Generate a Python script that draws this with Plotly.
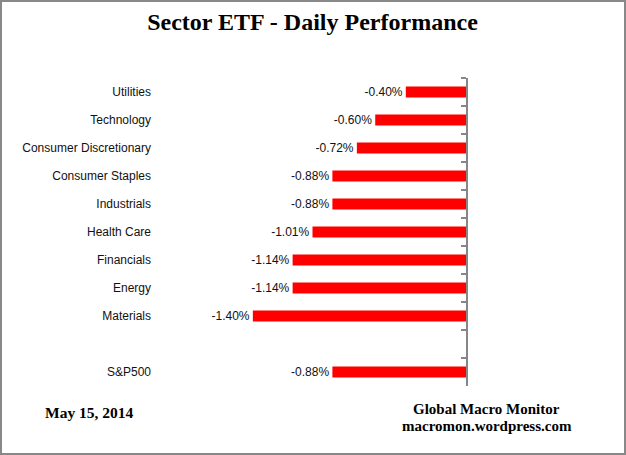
import plotly.graph_objects as go

# sector daily performance (%), top to bottom; blank row separates the S&P500
sectors = ["Utilities", "Technology", "Consumer Discretionary", "Consumer Staples",
           "Industrials", "Health Care", "Financials", "Energy", "Materials", " ", "S&P500"]
perf = [-0.40, -0.60, -0.72, -0.88, -0.88, -1.01, -1.14, -1.14, -1.40, None, -0.88]
perf_labels = ["-0.40%", "-0.60%", "-0.72%", "-0.88%", "-0.88%", "-1.01%",
               "-1.14%", "-1.14%", "-1.40%", "", "-0.88%"]

W, H = 626, 455
L, R, T, B = 158, 159, 78, 69
pw, ph = W - L - R, H - T - B

fig = go.Figure()
fig.add_trace(go.Bar(
    x=perf, y=sectors, orientation="h",
    marker=dict(color="#ff0000", line=dict(width=0)),
    width=0.4,
    text=perf_labels, textposition="outside", cliponaxis=False,
    constraintext="none",
    textfont=dict(family="Liberation Sans", size=12, color="#111111"),
    hoverinfo="skip",
))
# invisible trace to carry the zero axis with the category ticks
fig.add_trace(go.Scatter(x=[0] * len(sectors), y=sectors, yaxis="y2",
                         mode="markers", marker=dict(opacity=0), hoverinfo="skip"))

cat_range = [len(sectors) - 0.5, -0.5]
fig.update_layout(
    width=W, height=H,
    margin=dict(l=L, r=R, t=T, b=B),
    paper_bgcolor="white", plot_bgcolor="white",
    showlegend=False,
    title=dict(text="<b>Sector ETF - Daily Performance</b>", x=0.5, xref="paper",
               xanchor="center", y=1 - 22 / H, yanchor="middle",
               font=dict(family="Liberation Serif", size=24, color="black")),
    xaxis=dict(range=[-2.02, 0], visible=False, fixedrange=True),
    yaxis=dict(type="category", categoryorder="array", categoryarray=sectors,
               range=cat_range, showline=False, ticks="", showgrid=False,
               tickfont=dict(family="Liberation Sans", size=12, color="#111111"),
               ticklabelstandoff=6),
    yaxis2=dict(type="category", categoryorder="array", categoryarray=sectors,
                range=cat_range, overlaying="y", anchor="free", side="left",
                position=1, showline=True, linecolor="#868686", linewidth=2,
                ticks="outside", tickson="boundaries", ticklen=5,
                tickcolor="#868686", tickwidth=2, showticklabels=False,
                showgrid=False),
    bargap=0.6,
)

# outer frame
fig.add_shape(type="rect", xref="paper", yref="paper",
              x0=-(L - 1) / pw, x1=1 + (R - 1) / pw,
              y0=-(B - 1) / ph, y1=1 + (T - 1) / ph,
              line=dict(color="#888888", width=2))

foot = dict(family="Liberation Serif", size=15, color="black")
fig.add_annotation(text="<b>May 15, 2014</b>", xref="paper", yref="paper",
                   x=(89 - L) / pw, y=(H - 413 - B) / ph,
                   showarrow=False, font=dict(foot, size=15.5),
                   xanchor="center", yanchor="middle")
fig.add_annotation(text="<b>Global Macro Monitor</b>", xref="paper", yref="paper",
                   x=(487 - L) / pw, y=(H - 409 - B) / ph,
                   showarrow=False, font=foot, xanchor="center", yanchor="middle")
fig.add_annotation(text="<b>macromon.wordpress.com</b>", xref="paper", yref="paper",
                   x=(487 - L) / pw, y=(H - 426 - B) / ph,
                   showarrow=False, font=foot, xanchor="center", yanchor="middle")

# drop the default page margin so the chart sits at the window corner
fig.write_html("out.html", config={"displayModeBar": False},
               post_script="document.body.style.margin='0';")
